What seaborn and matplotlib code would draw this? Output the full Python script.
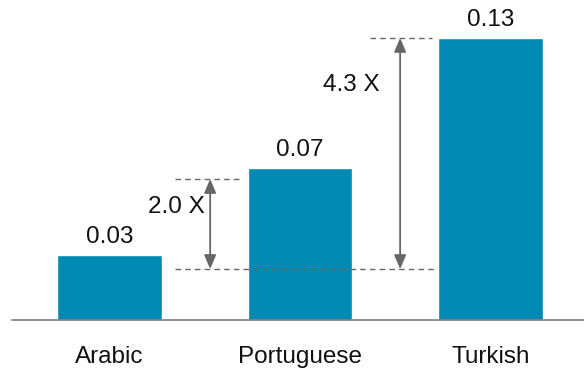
import matplotlib
matplotlib.use("Agg")
import matplotlib.pyplot as plt
import seaborn as sns
import pandas as pd

# Data
languages = ["Arabic", "Portuguese", "Turkish"]
scores = [0.03, 0.07, 0.13]
value_labels = ["0.03", "0.07", "0.13"]
ratio_labels = ["2.0 X", "4.3 X"]

# Reference levels for the ratio brackets
base_level = 0.0235
portuguese_level = 0.065
turkish_level = scores[2]

sns.set_theme(style="white")
plt.rcParams["font.family"] = ["Liberation Sans", "DejaVu Sans"]

bar_color = "#0089B3"
guide_color = "#666666"
fs = 17.5

df = pd.DataFrame({"language": languages, "score": scores})

fig = plt.figure(figsize=(5.84, 3.69), dpi=100)
ax = fig.add_axes([12 / 584, 1 - 320 / 369, 1 - 12 / 584, 320 / 369])

sns.barplot(data=df, x="language", y="score", color=bar_color,
            saturation=1, width=0.55, ax=ax)

ax.set_xlim(-0.512, 2.49)
ax.set_ylim(0, 0.1475)
ax.set_xlabel("")
ax.set_ylabel("")
ax.set_yticks([])
ax.tick_params(axis="x", length=0, pad=19, labelsize=fs, labelcolor="#111111")
for side in ["top", "right", "left"]:
    ax.spines[side].set_visible(False)
ax.spines["bottom"].set_color("#7f7f7f")
ax.spines["bottom"].set_linewidth(1.2)

# Value labels on top of bars
for i, (v, lab) in enumerate(zip(scores, value_labels)):
    ax.annotate(lab, (i, v), xytext=(0, 5), textcoords="offset points",
                ha="center", va="bottom", fontsize=fs, color="#111111")

dash = dict(color=guide_color, lw=1.0, linestyle=(0, (4, 3)))

# Dashed guide lines
ax.plot([0.344, 1.719], [base_level, base_level], **dash)
ax.plot([0.344, 0.701], [portuguese_level, portuguese_level], **dash)
ax.plot([1.367, 1.693], [turkish_level, turkish_level], **dash)

# Double-headed arrows
arrow = dict(arrowstyle="<|-|>,head_length=0.7,head_width=0.3",
             color=guide_color, lw=1.3, shrinkA=0, shrinkB=0)
ax.annotate("", xy=(0.528, portuguese_level), xytext=(0.528, base_level),
            arrowprops=arrow)
ax.annotate("", xy=(1.525, turkish_level), xytext=(1.525, base_level),
            arrowprops=arrow)

# Ratio labels
ax.text(0.501, 0.0519, ratio_labels[0], ha="right", va="center",
        fontsize=fs, color="#111111")
ax.text(1.42, 0.1083, ratio_labels[1], ha="right", va="center",
        fontsize=fs, color="#111111")

fig.savefig("out.png", dpi=100)
